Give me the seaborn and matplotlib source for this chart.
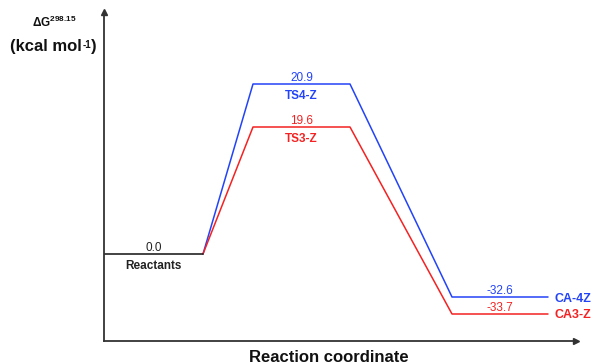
import numpy as np
import pandas as pd
import matplotlib
matplotlib.use("Agg")
import matplotlib.pyplot as plt
import seaborn as sns

# free energies (kcal/mol) written on the diagram
reactant_label = "Reactants"
reactant_energy = 0.0
ts_labels = ["TS4-Z", "TS3-Z"]
ts_energy = [20.9, 19.6]
prod_labels = ["CA-4Z", "CA3-Z"]
prod_energy = [-32.6, -33.7]

# heights of the levels as drawn (the diagram is schematic, not to scale)
reactant_level = 0
ts_level = [170, 127]
prod_level = [-43, -60]

# stage extents along the reaction coordinate
reactant_span = (0, 99)
ts_span = (149, 246)
prod_span = (348, 444)

colors = ["#2343f7", "#f42222"]

sns.set_theme(style="white")
plt.rcParams["font.family"] = ["Liberation Sans", "DejaVu Sans"]
plt.rcParams["mathtext.fontset"] = "custom"
plt.rcParams["mathtext.rm"] = "Liberation Sans"
plt.rcParams["mathtext.bf"] = "Liberation Sans:bold"

rows = []
for i, name in enumerate(ts_labels):
    xs = [reactant_span[1], ts_span[0], ts_span[1], prod_span[0], prod_span[1]]
    ys = [reactant_level, ts_level[i], ts_level[i], prod_level[i], prod_level[i]]
    for j, (x, y) in enumerate(zip(xs, ys)):
        rows.append({"path": name, "order": j, "x": x, "y": y})
df = pd.DataFrame(rows)

fig = plt.figure(figsize=(5.94, 3.63), dpi=100)
ax = fig.add_axes([104 / 594, 1 - 341 / 363, 472 / 594, 329 / 363])

sns.lineplot(data=df, x="x", y="y", hue="path", palette=colors, sort=False,
             estimator=None, legend=False, lw=1.1, ax=ax)
ax.plot(reactant_span, [reactant_level] * 2, color="#222222", lw=1.2)

ax.set_xlim(0, 472)
ax.set_ylim(-87, 242)
ax.set_xticks([])
ax.set_yticks([])
ax.set_xlabel("")
ax.set_ylabel("")
for s in ["top", "right"]:
    ax.spines[s].set_visible(False)
for s in ["left", "bottom"]:
    ax.spines[s].set_color("#333333")
    ax.spines[s].set_linewidth(1.3)
ax.plot(1, 0, ">", color="#333333", ms=4, transform=ax.transAxes, clip_on=False)
ax.plot(0, 1, "^", color="#333333", ms=4, transform=ax.transAxes, clip_on=False)

# level annotations
rc = np.mean(reactant_span)
ax.annotate(f"{reactant_energy:.1f}", (rc, reactant_level), xytext=(0, 0.3),
            textcoords="offset points", ha="center", va="bottom", fontsize=8.5, color="#222222")
ax.annotate(reactant_label, (rc, reactant_level), xytext=(0, -4),
            textcoords="offset points", ha="center", va="top", fontsize=8.5,
            fontweight="bold", color="#222222")
tc = np.mean(ts_span)
pc = np.mean(prod_span)
for i in range(len(ts_labels)):
    ax.annotate(f"{ts_energy[i]:.1f}", (tc, ts_level[i]), xytext=(0, 0.3),
                textcoords="offset points", ha="center", va="bottom", fontsize=8.5, color=colors[i])
    ax.annotate(ts_labels[i], (tc, ts_level[i]), xytext=(0, -4),
                textcoords="offset points", ha="center", va="top", fontsize=8.5,
                fontweight="bold", color=colors[i])
    ax.annotate(f"{prod_energy[i]:.1f}", (pc, prod_level[i]), xytext=(0, 0.3),
                textcoords="offset points", ha="center", va="bottom", fontsize=8.5, color=colors[i])
    ax.annotate(prod_labels[i], (prod_span[1], prod_level[i]), xytext=(5, 0),
                textcoords="offset points", ha="left", va="center_baseline", fontsize=9,
                fontweight="bold", color=colors[i])

fig.text(329 / 594, 1 - 357 / 363, "Reaction coordinate", ha="center", va="center",
         fontsize=12, fontweight="bold", color="#111111")
fig.text(54 / 594, 1 - 22 / 363, r"$\mathbf{\Delta G}^{\mathbf{298.15}}$", ha="center",
         va="center", fontsize=8.5, color="#111111")

# y unit with a small superscript
t1 = fig.text(10 / 594, 1 - 45 / 363, "(kcal mol", ha="left", va="center_baseline",
              fontsize=12, fontweight="bold", color="#111111")
t2 = ax.annotate("-1", xy=(1, 0.95), xycoords=t1, xytext=(0.3, 0), textcoords="offset points",
                 ha="left", va="top", fontsize=7, fontweight="bold", color="#111111",
                 annotation_clip=False)
ax.annotate(")", xy=(1, 0), xycoords=(t2, t1), ha="left", va="bottom",
            fontsize=12, fontweight="bold", color="#111111", annotation_clip=False)

fig.savefig("out.png", dpi=100)
